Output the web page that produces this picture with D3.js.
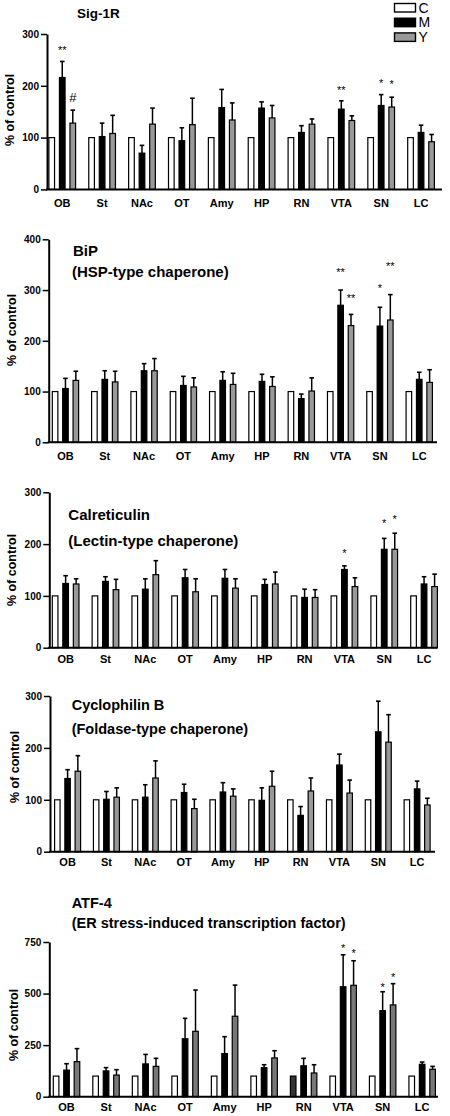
<!DOCTYPE html>
<html><head><meta charset="utf-8">
<script src="https://cdn.jsdelivr.net/npm/d3@7"></script>
<style>
html,body{margin:0;padding:0;background:#fff;}
svg{display:block;font-family:"Liberation Sans",Arial,Helvetica,sans-serif;}
</style></head>
<body><svg id="chart" width="450" height="1116"></svg>
<script>
const categories = ["OB","St","NAc","OT","Amy","HP","RN","VTA","SN","LC"];
const seriesNames = ["C","M","Y"];

// Sig-1R
const sigC = [100,100,100,100,100,100,100,100,100,100];
const sigM = [216,102,70,94,158,157,110,155,162,110];
const sigMErr = [31,26,15,25,35,12,13,16,21,14];
const sigY = [128,108,126,125,134,138,126,133,159,92];
const sigYErr = [25,35,31,51,33,24,10,9,19,14];
const sigTicks = [0,100,200,300];
const sigMarks = [["OB","M","**",275],["OB","Y","#",178],["VTA","M","**",196],["SN","M","*",211],["SN","Y","*",208]];

// BiP
const bipC = [100,100,100,100,100,100,100,100,100,100];
const bipM = [106,124,141,112,122,120,86,270,229,124];
const bipMErr = [20,17,14,18,17,14,9,30,37,14];
const bipY = [122,119,141,109,114,110,101,230,241,118];
const bipYErr = [18,21,24,18,22,19,26,22,50,25];
const bipTicks = [0,100,200,300,400];
const bipMarks = [["VTA","M","**",340],["VTA","Y","**",290],["SN","M","*",310],["SN","Y","**",352]];

// Calreticulin
const calC = [100,100,100,100,100,100,100,100,100,100];
const calM = [124,128,113,135,134,122,97,151,190,123];
const calMErr = [15,9,20,16,17,10,16,7,21,14];
const calY = [123,112,141,108,115,123,97,118,190,118];
const calYErr = [10,20,27,25,18,23,15,17,31,24];
const calTicks = [0,100,200,300];
const calMarks = [["VTA","M","*",187],["SN","M","*",245],["SN","Y","*",253]];

// Cyclophilin B
const cycC = [100,100,100,100,100,100,100,100,100,100];
const cycM = [141,101,105,114,115,99,70,167,231,121];
const cycMErr = [17,15,24,16,18,24,17,21,59,15];
const cycY = [155,105,142,83,107,126,117,113,211,90];
const cycYErr = [30,18,33,18,14,29,25,25,53,13];
const cycTicks = [0,100,200,300];
const cycMarks = [];

// ATF-4
const atfC = [100,100,100,100,100,100,100,100,100,100];
const atfM = [129,125,159,281,209,141,150,533,417,157];
const atfMErr = [31,16,46,99,82,14,36,155,92,11];
const atfY = [170,105,147,317,390,188,115,540,445,133];
const atfYErr = [63,26,39,200,151,35,40,119,103,14];
const atfTicks = [0,250,500,750];
const atfMarks = [["VTA","M","*",735],["VTA","Y","*",711],["SN","M","*",546],["SN","Y","*",595]];

const svg = d3.select("#chart");

const panels = [
  {C:sigC,M:sigM,ME:sigMErr,Y:sigY,YE:sigYErr,ticks:sigTicks,marks:sigMarks,
   titles:[["Sig-1R",77,18,13.5]], axisX:47, y0:189.4, y1:34, bx0:48.3, bx1:435, axisEnd:442,
   labY:207, ylab:[9,110], yColor:"#999999"},
  {C:bipC,M:bipM,ME:bipMErr,Y:bipY,YE:bipYErr,ticks:bipTicks,marks:bipMarks,
   titles:[["BiP",73,255.5,15],["(HSP-type chaperone)",72,277,15]], axisX:48.7, y0:442.3, y1:239.3, bx0:51.7, bx1:433, axisEnd:437,
   labY:460, ylab:[11.7,330], yColor:"#999999"},
  {C:calC,M:calM,ME:calMErr,Y:calY,YE:calYErr,ticks:calTicks,marks:calMarks,
   titles:[["Calreticulin",68.3,520,15],["(Lectin-type chaperone)",68.3,545.5,15]], axisX:49.3, y0:647.7, y1:492.3, bx0:51.7, bx1:438, axisEnd:437.5,
   labY:663, ylab:[11.7,570], yColor:"#999999"},
  {C:cycC,M:cycM,ME:cycMErr,Y:cycY,YE:cycYErr,ticks:cycTicks,marks:cycMarks,
   titles:[["Cyclophilin B",71.7,710,14.5],["(Foldase-type chaperone)",71.7,733.5,14.5]], axisX:50, y0:851.7, y1:696, bx0:54, bx1:430.7, axisEnd:435,
   labY:866, ylab:[14.3,767], yColor:"#999999"},
  {C:atfC,M:atfM,ME:atfMErr,Y:atfY,YE:atfYErr,ticks:atfTicks,marks:atfMarks,
   titles:[["ATF-4",71.7,908,14.5],["(ER stress-induced transcription factor)",71.7,927.5,14.5]], axisX:49.3, y0:1096.7, y1:942, bx0:52.7, bx1:436, axisEnd:438,
   labY:1111, ylab:[13.3,1025], yColor:"#787878", darkC:"RN"}
];

panels.forEach(p => {
  const g = svg.append("g");
  const maxV = p.ticks[p.ticks.length-1];
  const y = d3.scaleLinear().domain([0,maxV]).range([p.y0,p.y1]);
  const x0 = d3.scaleBand().domain(categories).range([p.bx0,p.bx1]).paddingInner(0.3).paddingOuter(0);
  const x1 = d3.scaleBand().domain(seriesNames).range([0,x0.bandwidth()]).paddingInner(0.35).paddingOuter(0);

  const rows = categories.map((c,i)=>({cat:c, vals:[
    {s:"C", v:p.C[i], e:0},
    {s:"M", v:p.M[i], e:p.ME[i]},
    {s:"Y", v:p.Y[i], e:p.YE[i]}]}));

  const fills = {C:"#ffffff", M:"#000000", Y:p.yColor};

  const grp = g.selectAll("g.grp").data(rows).join("g")
    .attr("transform", d=>`translate(${x0(d.cat)},0)`);

  // error bars
  grp.selectAll("g.err").data(d=>d.vals.filter(v=>v.e>0)).join("g").each(function(d){
    const cx = x1(d.s)+x1.bandwidth()/2;
    const sel = d3.select(this);
    sel.append("line").attr("x1",cx).attr("x2",cx).attr("y1",y(d.v)).attr("y2",y(d.v+d.e))
      .attr("stroke","#000").attr("stroke-width",1.5);
    sel.append("line").attr("x1",cx-2.3).attr("x2",cx+2.3).attr("y1",y(d.v+d.e)).attr("y2",y(d.v+d.e))
      .attr("stroke","#000").attr("stroke-width",1.6);
  });

  grp.selectAll("rect").data(d=>d.vals.map(v=>Object.assign({cat:d.cat},v))).join("rect")
    .attr("x", d=>x1(d.s)+0.6)
    .attr("width", x1.bandwidth()-1.2)
    .attr("y", d=>y(d.v))
    .attr("height", d=>y(0)-y(d.v))
    .attr("fill", d=> (p.darkC && d.s==="C" && d.cat===p.darkC) ? "#333333" : fills[d.s])
    .attr("stroke","#000").attr("stroke-width",1.2);

  // y axis
  const ya = g.append("g").attr("transform",`translate(${p.axisX},0)`)
    .call(d3.axisLeft(y).tickValues(p.ticks).tickSize(6).tickSizeOuter(0).tickPadding(2));
  ya.select(".domain").attr("stroke-width",2);
  ya.selectAll(".tick line").attr("stroke-width",1.5);
  ya.selectAll(".tick text").attr("font-size",10).attr("font-weight","bold")
    .attr("font-family","Liberation Sans, Arial, sans-serif").attr("fill","#000");

  // x axis baseline
  g.append("line").attr("x1",p.axisX-1).attr("x2",p.axisEnd).attr("y1",p.y0).attr("y2",p.y0)
    .attr("stroke","#000").attr("stroke-width",2);
  const xa = g.append("g").attr("transform",`translate(0,${p.y0})`)
    .call(d3.axisBottom(x0).tickSize(0).tickPadding(0));
  xa.select(".domain").remove();
  xa.selectAll(".tick text").attr("y", p.labY - p.y0).attr("dy",0)
    .attr("font-size",11).attr("font-weight","bold")
    .attr("font-family","Liberation Sans, Arial, sans-serif").attr("fill","#000");

  // y label
  g.append("text").attr("transform",`translate(${p.ylab[0]+4.5},${p.ylab[1]}) rotate(-90)`)
    .attr("text-anchor","middle").attr("font-size",12.5).attr("font-weight","bold")
    .text("% of control");

  // titles
  p.titles.forEach(t=>{
    g.append("text").attr("x",t[1]).attr("y",t[2]).attr("font-size",t[3]).attr("font-weight","bold").text(t[0]);
  });

  // significance marks
  p.marks.forEach(m=>{
    const cx = x0(m[0]) + x1(m[1]) + x1.bandwidth()/2;
    const fs = m[2]==="#" ? 13 : 11;
    const off = m[2]==="#" ? 0.36*fs : 0.6*fs;
    g.append("text").attr("x",cx).attr("y",y(m[3])+off).attr("text-anchor","middle")
      .attr("font-size",fs).text(m[2]);
  });
});

// legend
const leg = svg.append("g");
seriesNames.forEach((s,i)=>{
  leg.append("rect").attr("x",394.5).attr("y",3.5+i*14.7).attr("width",21).attr("height",8.5)
    .attr("fill", s==="C"?"#fff":(s==="M"?"#000":"#999999")).attr("stroke","#000").attr("stroke-width",1.4);
  leg.append("text").attr("x",418.5).attr("y",12.5+i*14.7).attr("font-size",14).text(s);
});
</script></body></html>
